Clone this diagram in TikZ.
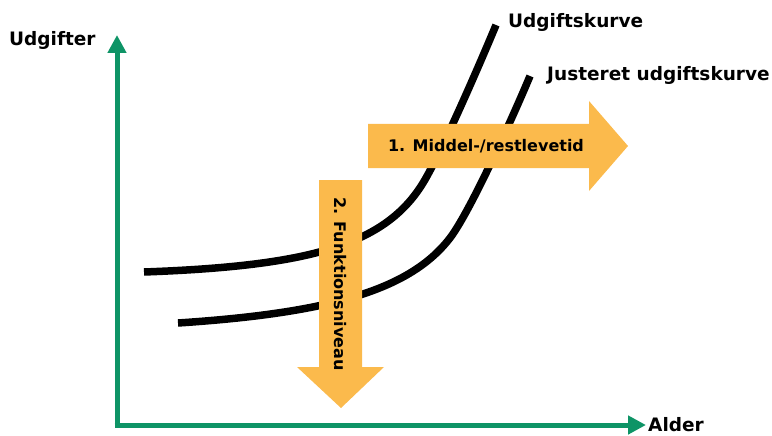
\documentclass[tikz,border=0pt]{standalone}
\usepackage{fontspec}
\setmainfont{DejaVu Sans}
\usetikzlibrary{calc,arrows.meta}
\definecolor{axisgreen}{RGB}{14,148,102}
\definecolor{arroworange}{RGB}{251,186,76}

\begin{document}
\begin{tikzpicture}[x=1pt,y=-1pt,
    lbl/.style={font=\fontsize{18.5}{20}\selectfont\bfseries, inner sep=0pt},
    pillbl/.style={font=\fontsize{16}{18}\selectfont\bfseries, inner sep=0pt},
    axis/.style={axisgreen, line width=5pt, -{Triangle[length=18pt,width=18pt]}},
    kurve/.style={line width=7.5pt},
    bigarrow/.style={fill=arroworange, draw=none}]
  \useasboundingbox (0,0) rectangle (772,436);

  % akser
  \coordinate (origo) at (117,425);
  \coordinate (ytop)  at (117,35);
  \coordinate (xend)  at (646,425);
  \draw[axis] (origo) -- (ytop);
  \draw[axis] ([xshift=-2.5pt]origo) -- (xend);
  \node[lbl, anchor=west] (ylbl) at (9,40) {Udgifter};
  \node[lbl, anchor=west] (xlbl) at (648,425) {Alder};

  % kurver
  \draw[kurve] (144,272) .. controls (310,266) and (385,245) .. (423,183)
    .. controls (442,152) and (484,54) .. (496,25);
  \draw[kurve] (178,323) .. controls (330,313) and (410,290) .. (450,238)
    .. controls (472,209) and (518,105) .. (530,76);
  \node[lbl, anchor=west] (k1) at (508,22) {Udgiftskurve};
  \node[lbl, anchor=west] (k2) at (547,75) {Justeret udgiftskurve};

  % pile
  \fill[bigarrow] (368,124) -- (589,124) -- (589,101) -- (628,146)
    -- (589,191) -- (589,168) -- (368,168) -- cycle;
  \node[pillbl] (pil1) at (486,146) {1. Middel-/restlevetid};

  \fill[bigarrow] (319,180) -- (362,180) -- (362,367) -- (384,367)
    -- (341,408) -- (297,367) -- (319,367) -- cycle;
  \node[pillbl, rotate=-90] (pil2) at (340,284) {2. Funktionsniveau};
\end{tikzpicture}
\end{document}
